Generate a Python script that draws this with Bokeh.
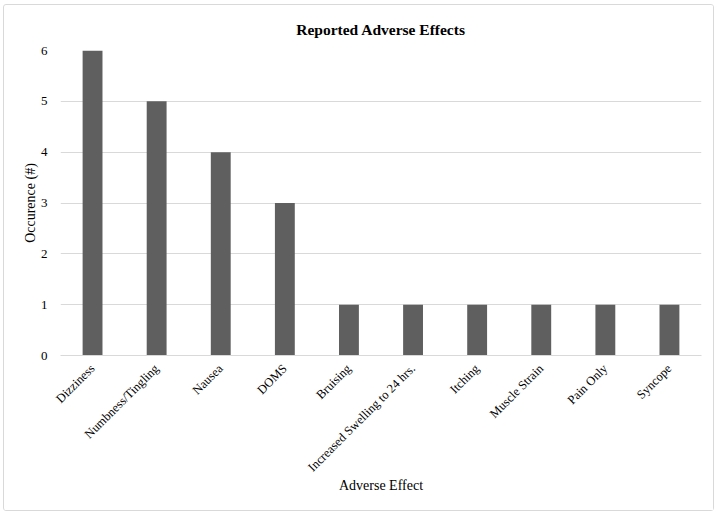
from math import pi
from bokeh.plotting import figure
from bokeh.models import Range1d, FactorRange
from bokeh.embed import file_html
from bokeh.resources import INLINE

categories = ["Dizziness", "Numbness/Tingling", "Nausea", "DOMS", "Bruising",
              "Increased Swelling to 24 hrs.", "Itching", "Muscle Strain",
              "Pain Only", "Syncope"]
counts = [6, 5, 4, 3, 1, 1, 1, 1, 1, 1]

FONT = "Liberation Serif"

p = figure(x_range=FactorRange(*categories, range_padding=0), y_range=Range1d(0, 6),
           width=711, height=507, output_backend="svg", toolbar_location=None,
           title="Reported Adverse Effects",
           min_border_left=56, min_border_right=14, min_border_top=45, min_border_bottom=157)

p.vbar(x=categories, top=counts, width=0.31, fill_color="#5f5f5f", line_color=None)

p.title.align = "center"
p.title.text_font = FONT
p.title.text_font_size = "15.5px"
p.title.text_font_style = "bold"
p.title.text_color = "#000000"
p.title.standoff = 25

p.outline_line_color = None
p.styles = {"border": "1px solid #d9d9d9", "border-radius": "3px",
            "margin-left": "3px", "margin-top": "4px"}

p.xgrid.grid_line_color = None
p.ygrid.grid_line_color = "#d9d9d9"
p.yaxis.ticker = [0, 1, 2, 3, 4, 5, 6]

p.yaxis.axis_line_color = None
p.yaxis.major_tick_line_color = None
p.yaxis.minor_tick_line_color = None
p.yaxis.major_label_text_font = FONT
p.yaxis.major_label_text_font_size = "13px"
p.yaxis.major_label_text_color = "#000000"
p.yaxis.major_label_standoff = 7
p.yaxis.axis_label = "Occurence (#)"
p.yaxis.axis_label_text_font = FONT
p.yaxis.axis_label_text_font_size = "14px"
p.yaxis.axis_label_text_font_style = "normal"
p.yaxis.axis_label_text_color = "#000000"
p.yaxis.axis_label_standoff = 0

p.xaxis.axis_line_color = "#d9d9d9"
p.xaxis.major_tick_line_color = None
p.xaxis.minor_tick_line_color = None
p.xaxis.major_label_orientation = pi / 4
p.xaxis.major_label_text_font = FONT
p.xaxis.major_label_text_font_size = "12.5px"
p.xaxis.major_label_text_color = "#000000"
p.xaxis.major_label_standoff = 5
p.xaxis.axis_label = "Adverse Effect"
p.xaxis.axis_label_text_font = FONT
p.xaxis.axis_label_text_font_size = "14px"
p.xaxis.axis_label_text_font_style = "normal"
p.xaxis.axis_label_text_color = "#000000"
p.xaxis.axis_label_standoff = -4

open("out.html", "w").write(file_html(p, INLINE))
